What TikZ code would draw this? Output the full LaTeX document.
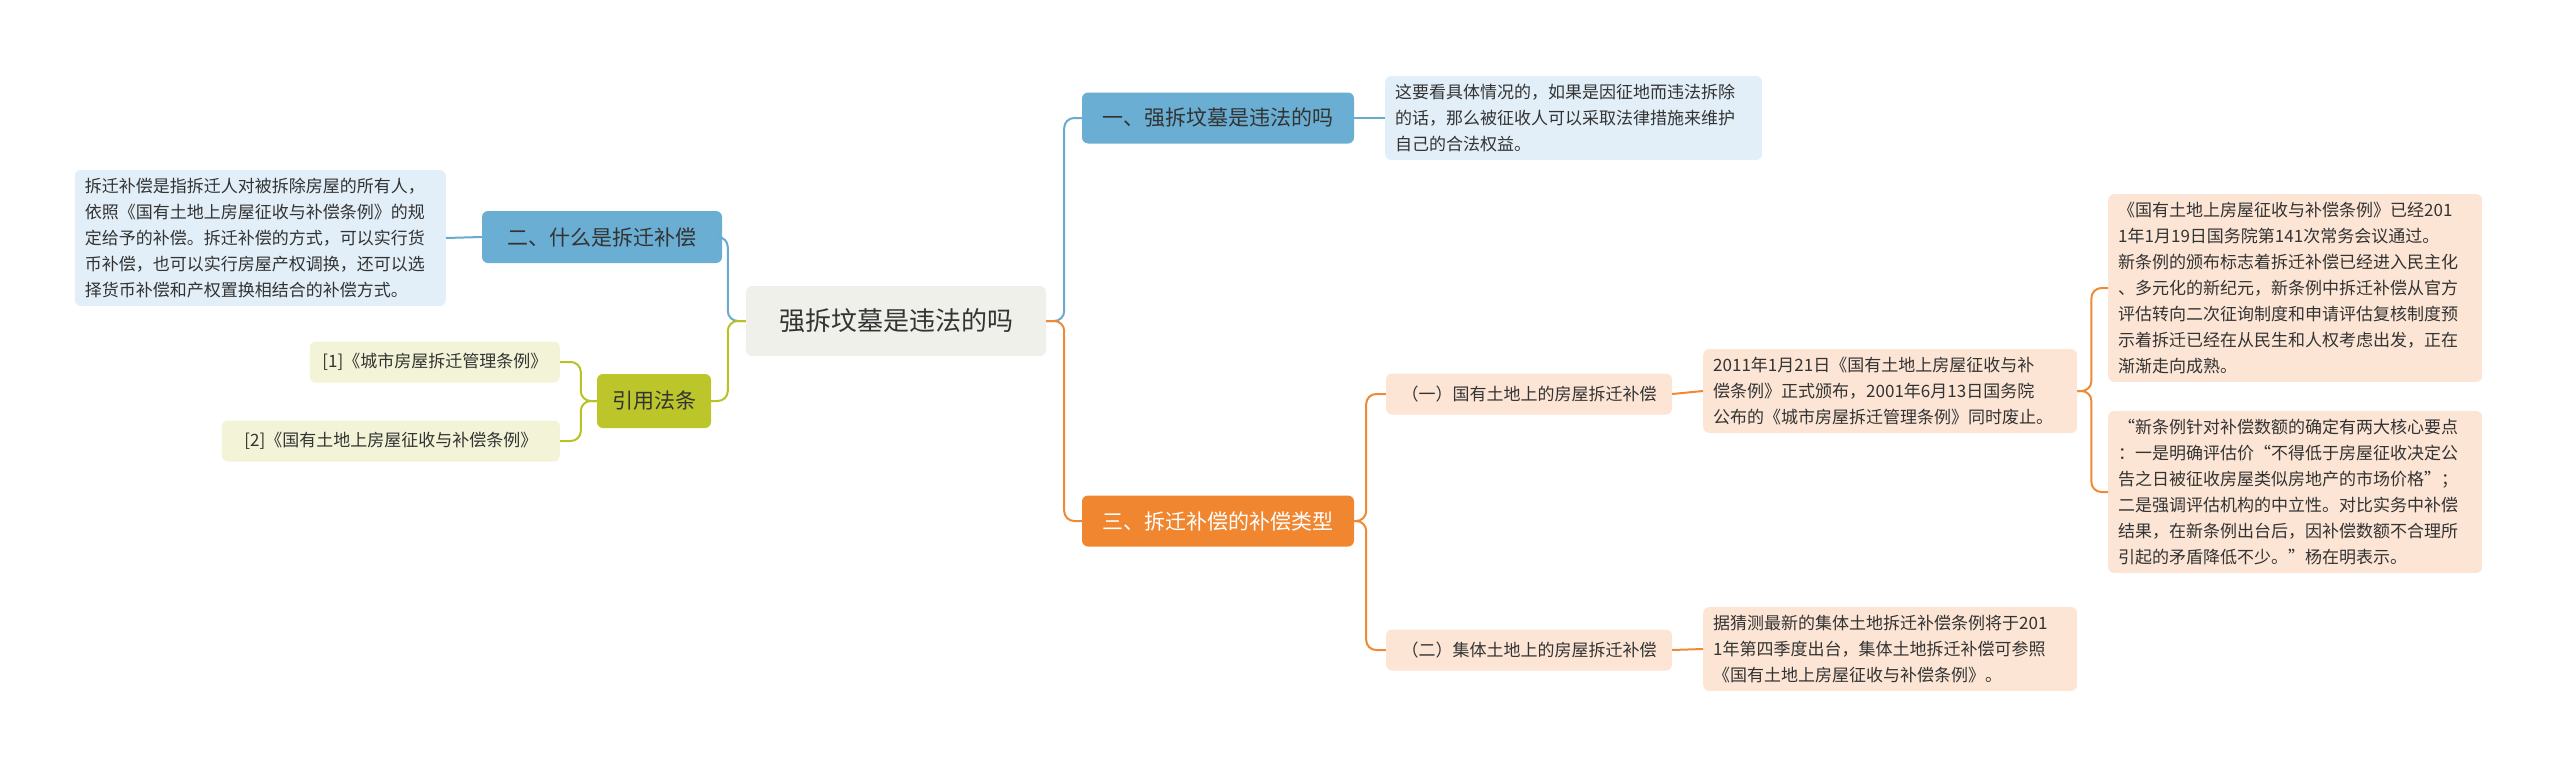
\documentclass[tikz,border=0pt]{standalone}
\usepackage{fontspec}
\setmainfont{Noto Sans CJK SC}
\begin{document}
\begin{tikzpicture}[x=1pt,y=-1pt]
\definecolor{bl}{HTML}{6AAED3}\definecolor{bll}{HTML}{E2EFF8}\definecolor{bline}{HTML}{6AAAD0}
\definecolor{or}{HTML}{F0862F}\definecolor{orl}{HTML}{FCE5D4}\definecolor{oline}{HTML}{EE8A35}
\definecolor{gr}{HTML}{BCC62A}\definecolor{grl}{HTML}{F3F3D8}\definecolor{gline}{HTML}{B8C225}
\definecolor{rootbg}{HTML}{F0F0EB}\definecolor{tx}{HTML}{333333}
\tikzset{
 box/.style={rounded corners=6pt,inner sep=0pt,text=tx},
 desc/.style={box,font=\fontsize{17}{26}\selectfont,align=left,inner xsep=10pt,inner ysep=8pt},
 con/.style={line width=2pt,rounded corners=10pt},
}
\useasboundingbox (0,0) rectangle (2560,771);
\node[box,fill=rootbg,minimum width=300,minimum height=70,font=\fontsize{26}{30}\selectfont] (root) at (896,321) {强拆坟墓是违法的吗};
\node[box,fill=bl,minimum width=272,minimum height=51,font=\fontsize{21}{26}\selectfont] (a) at (1218,118) {一、强拆坟墓是违法的吗};
\node[desc,fill=bll,text width=357,anchor=west] (ad) at (1385,118) {这要看具体情况的，如果是因征地而违法拆除\\的话，那么被征收人可以采取法律措施来维护\\自己的合法权益。};
\node[box,fill=or,text=white,minimum width=272,minimum height=51,font=\fontsize{21}{26}\selectfont] (c) at (1218,521) {三、拆迁补偿的补偿类型};
\node[box,fill=orl,minimum width=286,minimum height=41,font=\fontsize{17}{22}\selectfont] (c1) at (1529,394) {（一）国有土地上的房屋拆迁补偿};
\node[box,fill=orl,minimum width=286,minimum height=41,font=\fontsize{17}{22}\selectfont] (c2) at (1529,650) {（二）集体土地上的房屋拆迁补偿};
\node[desc,fill=orl,text width=354,anchor=west] (c1d) at (1703,391) {2011年1月21日《国有土地上房屋征收与补\\偿条例》正式颁布，2001年6月13日国务院\\公布的《城市房屋拆迁管理条例》同时废止。};
\node[desc,fill=orl,text width=354,anchor=west] (c2d) at (1703,649) {据猜测最新的集体土地拆迁补偿条例将于201\\1年第四季度出台，集体土地拆迁补偿可参照\\《国有土地上房屋征收与补偿条例》。};
\node[desc,fill=orl,text width=354,anchor=west] (r1) at (2108,288) {《国有土地上房屋征收与补偿条例》已经201\\1年1月19日国务院第141次常务会议通过。\\新条例的颁布标志着拆迁补偿已经进入民主化\\、多元化的新纪元，新条例中拆迁补偿从官方\\评估转向二次征询制度和申请评估复核制度预\\示着拆迁已经在从民生和人权考虑出发，正在\\渐渐走向成熟。};
\node[desc,fill=orl,text width=354,anchor=west] (r2) at (2108,492) {“新条例针对补偿数额的确定有两大核心要点\\：一是明确评估价“不得低于房屋征收决定公\\告之日被征收房屋类似房地产的市场价格”；\\二是强调评估机构的中立性。对比实务中补偿\\结果，在新条例出台后，因补偿数额不合理所\\引起的矛盾降低不少。”杨在明表示。};
\node[box,fill=bl,minimum width=240,minimum height=52,font=\fontsize{21}{26}\selectfont] (b) at (602,237) {二、什么是拆迁补偿};
\node[desc,fill=bll,text width=351,anchor=east] (bd) at (446,238) {拆迁补偿是指拆迁人对被拆除房屋的所有人，\\依照《国有土地上房屋征收与补偿条例》的规\\定给予的补偿。拆迁补偿的方式，可以实行货\\币补偿，也可以实行房屋产权调换，还可以选\\择货币补偿和产权置换相结合的补偿方式。};
\node[box,fill=gr,minimum width=114,minimum height=54,font=\fontsize{21}{26}\selectfont] (g) at (654,401) {引用法条};
\node[box,fill=grl,minimum width=250,minimum height=41,font=\fontsize{17}{22}\selectfont,anchor=east] (g1) at (560,362) {[1]《城市房屋拆迁管理条例》};
\node[box,fill=grl,minimum width=338,minimum height=41,font=\fontsize{17}{22}\selectfont,anchor=east] (g2) at (560,441) {[2]《国有土地上房屋征收与补偿条例》};
% connectors
\draw[con,bline] (root.east) -- ++(18,0) |- (a.west);
\draw[con,oline] (root.east) -- ++(18,0) |- (c.west);
\draw[con,bline] (a.east) -- (ad.west);
\draw[con,oline] (c.east) -- ++(12,0) |- (c1.west);
\draw[con,oline] (c.east) -- ++(12,0) |- (c2.west);
\draw[con,oline] (c1.east) -- (c1d.west);
\draw[con,oline] (c2.east) -- (c2d.west);
\draw[con,oline] (c1d.east) -- ++(14,0) |- (r1.west);
\draw[con,oline] (c1d.east) -- ++(14,0) |- (r2.west);
\draw[con,bline] (root.west) -- ++(-18,0) |- (b.east);
\draw[con,gline] (root.west) -- ++(-18,0) |- (g.east);
\draw[con,bline] (b.west) -- (bd.east);
\draw[con,gline] (g.west) -- ++(-16,0) |- (g1.east);
\draw[con,gline] (g.west) -- ++(-16,0) |- (g2.east);
\end{tikzpicture}
\end{document}
